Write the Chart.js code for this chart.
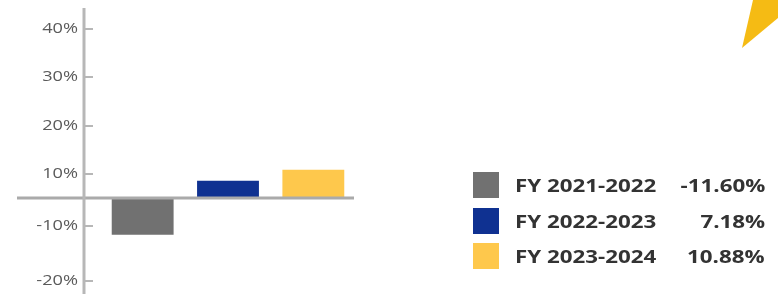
<!DOCTYPE html>
<html>
<head>
<meta charset="utf-8">
<script src="https://cdn.jsdelivr.net/npm/chart.js@4"></script>
<style>
  html,body{margin:0;padding:0;background:#fff;}
  #wrap{position:relative;width:778px;height:294px;overflow:hidden;font-family:"Open Sans",sans-serif;}
  #c{position:absolute;left:0;top:0;}
  .sw{position:absolute;width:26px;height:26px;}
  .lbl,.val{position:absolute;height:26px;line-height:26px;font-size:18px;font-weight:700;color:#333;white-space:nowrap;}
  .lbl{transform:scaleX(1.24);transform-origin:left center;}
  .val{transform:scaleX(1.24);transform-origin:right center;text-align:right;}
  .deco{position:absolute;left:740px;top:0;width:38px;height:50px;background:#f5bb14;
        clip-path:polygon(2px 48px,13px 0,38px 0,38px 18px);}
</style>
</head>
<body>
<div id="wrap">
  <canvas id="c" width="778" height="294"></canvas>
  <div id="legend"></div>
  <div class="deco"></div>
</div>
<script>
const years=['FY 2021-2022','FY 2022-2023','FY 2023-2024']
const growth=[-11.60,7.18,10.88]
const barColors=['#717171','#0f3191','#fec84c']
const tickValues=[-20,-10,10,20,30,40]
const tickLabels=['-20%','-10%','10%','20%','30%','40%']

// the source axis is not linear: the band around zero is squeezed
const axisStops=[-22.4,-10,0,10,44.4]
const axisSpans=[68,28,24,166]

class SegmentScale extends Chart.LinearScale{
    fraction(v){
        const total=axisSpans.reduce((a,b)=>a+b,0)
        let acc=0
        for(let i=0;i<axisSpans.length;i++){
            const a=axisStops[i],b=axisStops[i+1]
            if(v<=b||i===axisSpans.length-1)
            return (acc+(v-a)/(b-a)*axisSpans[i])/total
            acc+=axisSpans[i]
        }
    }
    getPixelForValue(v){
        return this.bottom-this.fraction(v)*(this.bottom-this.top)
    }
    getValueForPixel(p){
        const total=axisSpans.reduce((a,b)=>a+b,0)
        let d=(this.bottom-p)/(this.bottom-this.top)*total
        for(let i=0;i<axisSpans.length;i++){
            if(d<=axisSpans[i]||i===axisSpans.length-1)
            return axisStops[i]+d/axisSpans[i]*(axisStops[i+1]-axisStops[i])
            d-=axisSpans[i]
        }
    }
}
SegmentScale.id='segment'
SegmentScale.defaults=Chart.LinearScale.defaults
Chart.register(SegmentScale)

function line(ctx,x1,y1,x2,y2){
    ctx.beginPath()
    ctx.moveTo(x1,y1)
    ctx.lineTo(x2,y2)
    ctx.stroke()
}

const axisPlugin={
    id:'axisDraw',
    afterDatasetsDraw(chart){
        const ctx=chart.ctx
        const y=chart.scales.y
        const area=chart.chartArea
        const ax=area.left-16
        ctx.save()
        ctx.strokeStyle='#aaaaaa'
        ctx.lineWidth=3
        const y0=y.getPixelForValue(0)
        line(ctx,17,y0,area.right-2,y0)
        ctx.strokeStyle='#b7b7b7'
        line(ctx,ax,area.top,ax,area.bottom)
        ctx.lineWidth=2
        ctx.fillStyle='#5a5a5a'
        ctx.font='14px "Open Sans"'
        ctx.textAlign='right'
        ctx.textBaseline='middle'
        tickValues.forEach((v,i)=>{
            const py=Math.round(y.getPixelForValue(v))
            line(ctx,ax,py,ax+9,py)
            ctx.save()
            ctx.translate(78,py)
            ctx.scale(1.3,1)
            ctx.fillText(tickLabels[i],0,0)
            ctx.restore()
        })
        ctx.restore()
    }
}

new Chart(document.getElementById('c'),{
    type:'bar',
    data:{
        labels:years,
        datasets:[{
            data:growth,
            backgroundColor:barColors,
            borderWidth:0,
            barPercentage:1,
            categoryPercentage:0.725
        }]
    },
    options:{
        responsive:false,
        animation:false,
        layout:{padding:{left:100,right:422,top:8,bottom:0}},
        plugins:{legend:{display:false},tooltip:{enabled:false}},
        scales:{
            x:{display:false},
            y:{type:'segment',display:false,min:axisStops[0],max:axisStops[axisStops.length-1]}
        }
    },
    plugins:[axisPlugin]
})

const legend=document.getElementById('legend')
years.forEach((name,i)=>{
    const top=172+i*35.5
    const sw=document.createElement('div')
    sw.className='sw'
    sw.style.left='473px'
    sw.style.top=top+'px'
    sw.style.background=barColors[i]
    legend.appendChild(sw)
    const lbl=document.createElement('div')
    lbl.className='lbl'
    lbl.style.left='515px'
    lbl.style.top=top+'px'
    lbl.innerText=name
    legend.appendChild(lbl)
    const val=document.createElement('div')
    val.className='val'
    val.style.right=(778-765)+'px'
    val.style.top=top+'px'
    val.innerText=growth[i].toFixed(2)+'%'
    legend.appendChild(val)
})
</script>
</body>
</html>
